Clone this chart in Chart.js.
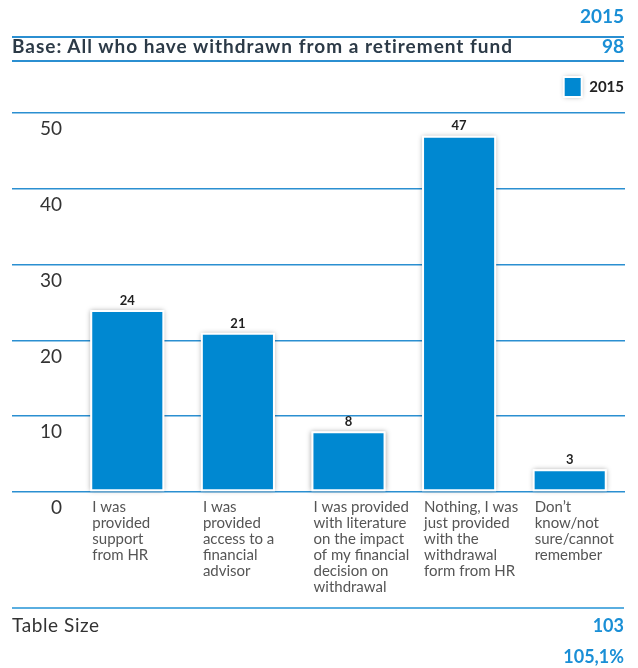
<!DOCTYPE html>
<html>
<head>
<meta charset="utf-8">
<script src="https://cdn.jsdelivr.net/npm/chart.js@4"></script>
<style>
    body { margin: 0; background: #fff; font-family: "Lato", "Open Sans", sans-serif; }
    #page { position: relative; width: 638px; height: 668px; overflow: hidden; }
    #chartBox { position: absolute; left: 0; top: 0; width: 638px; height: 668px; }
    .txt { position: absolute; line-height: 20px; white-space: nowrap; }
    .blue { color: #1a8fd6; font-weight: bold; }
    .rule { position: absolute; left: 12px; width: 612px; height: 2px; background: #2b8fd1; }
</style>
</head>
<body>
<div id="page">
    <div id="chartBox"><canvas id="chart"></canvas></div>

    <div class="txt blue" style="right:14px; top:6px; font-size:19px;">2015</div>
    <div class="rule" style="top:36px;"></div>
    <div class="txt" style="left:12px; top:36px; font-size:19px; font-weight:bold; letter-spacing:1px; color:#2c3a47;">Base: All who have withdrawn from a retirement fund</div>
    <div class="txt blue" style="right:14px; top:36px; font-size:19px;">98</div>
    <div class="rule" style="top:60px;"></div>

    <div class="rule" style="top:607px; background:#5aaee0;"></div>
    <div class="txt" style="left:12px; top:615px; font-size:19px; letter-spacing:0.6px; color:#333;">Table Size</div>
    <div class="txt blue" style="right:14px; top:615px; font-size:18px;">103</div>
    <div class="txt blue" style="right:14px; top:646px; font-size:18px;">105,1%</div>
</div>

<script>
    // values
    var categories = [
        ['I was', 'provided', 'support', 'from HR'],
        ['I was', 'provided', 'access to a', 'financial', 'advisor'],
        ['I was provided', 'with literature', 'on the impact', 'of my financial', 'decision on', 'withdrawal'],
        ['Nothing, I was', 'just provided', 'with the', 'withdrawal', 'form from HR'],
        ['Don\u2019t', 'know/not', 'sure/cannot', 'remember']
    ];
    var seriesName = '2015';
    var values2015 = [24, 21, 8, 47, 3];
    var yTicks = [0, 10, 20, 30, 40, 50];

    var BAR_BLUE = '#0088d1';
    var GRID_BLUE = '#2b8fd1';

    // push the plot area a bit further below the legend
    var legendGap = {
        id: 'legendGap',
        beforeInit: function (chart) {
            var origFit = chart.legend.fit;
            chart.legend.fit = function () {
                origFit.bind(chart.legend)();
                this.height += 6;
            };
        }
    };

    // soft shadows behind the legend box and the bars
    function shadowRects(chart, rects) {
        var ctx = chart.ctx;
        ctx.save();
        ctx.shadowColor = 'rgba(0,0,0,0.35)';
        ctx.shadowBlur = 5;
        ctx.fillStyle = '#fff';
        rects.forEach(function (r) {
            ctx.fillRect(r[0], r[1], r[2], r[3]);
        });
        ctx.restore();
    }

    var shadows = {
        id: 'shadows',
        beforeDraw: function (chart) {
            var boxes = (chart.legend.legendHitBoxes || []).map(function (box) {
                return [box.left, box.top, 18, 20];
            });
            shadowRects(chart, boxes);
        },
        beforeDatasetsDraw: function (chart) {
            var bars = chart.getDatasetMeta(0).data.map(function (bar) {
                return [bar.x - bar.width / 2, bar.y, bar.width, bar.base - bar.y];
            });
            shadowRects(chart, bars);
        }
    };

    var valueLabels = {
        id: 'valueLabels',
        afterDatasetsDraw: function (chart) {
            var ctx = chart.ctx;
            var meta = chart.getDatasetMeta(0);
            ctx.save();
            ctx.font = 'bold 13px Lato, sans-serif';
            ctx.fillStyle = '#1f1f1f';
            ctx.textAlign = 'center';
            ctx.textBaseline = 'bottom';
            meta.data.forEach(function (bar, i) {
                ctx.fillText(String(values2015[i]), bar.x, bar.y - 3);
            });
            ctx.restore();
        }
    };

    // y tick labels sit just below their grid line
    var yLabels = {
        id: 'yLabels',
        afterDraw: function (chart) {
            var ctx = chart.ctx;
            var yScale = chart.scales.y;
            ctx.save();
            ctx.font = '19px Lato, sans-serif';
            ctx.fillStyle = '#333';
            ctx.textAlign = 'right';
            ctx.textBaseline = 'middle';
            yTicks.forEach(function (v) {
                ctx.fillText(String(v), chart.chartArea.left - 10, yScale.getPixelForValue(v) + 16);
            });
            ctx.restore();
        }
    };

    var ctx = document.getElementById('chart').getContext('2d');
    new Chart(ctx, {
        type: 'bar',
        data: {
            labels: categories,
            datasets: [{
                label: seriesName,
                data: values2015,
                backgroundColor: BAR_BLUE,
                borderColor: '#fff',
                borderWidth: 2,
                borderSkipped: false,
                barPercentage: 0.67,
                categoryPercentage: 1
            }]
        },
        options: {
            responsive: true,
            maintainAspectRatio: false,
            animation: false,
            layout: {
                padding: { left: 12, right: 13, top: 76, bottom: 66 }
            },
            plugins: {
                tooltip: { enabled: false },
                legend: {
                    position: 'top',
                    align: 'end',
                    labels: {
                        boxWidth: 18,
                        boxHeight: 20,
                        padding: 1,
                        color: '#222',
                        font: { family: 'Lato', size: 15, weight: 'bold' }
                    }
                }
            },
            scales: {
                x: {
                    grid: { display: false, drawTicks: false },
                    border: { display: false },
                    afterFit: function (scale) {
                        // labels hang right of their tick, don't let them shrink the plot
                        scale.paddingLeft = 0;
                        scale.paddingRight = 0;
                    },
                    ticks: {
                        align: 'start',
                        labelOffset: -35,
                        padding: 7,
                        maxRotation: 0,
                        autoSkip: false,
                        color: '#555',
                        font: { family: 'Lato', size: 15, lineHeight: '16px' }
                    }
                },
                y: {
                    min: 0,
                    max: 50,
                    border: { display: false },
                    grid: {
                        color: GRID_BLUE,
                        lineWidth: 1.5,
                        drawTicks: true,
                        tickLength: 60
                    },
                    ticks: { stepSize: 10, display: false }
                }
            }
        },
        plugins: [legendGap, shadows, valueLabels, yLabels]
    });
</script>
</body>
</html>
